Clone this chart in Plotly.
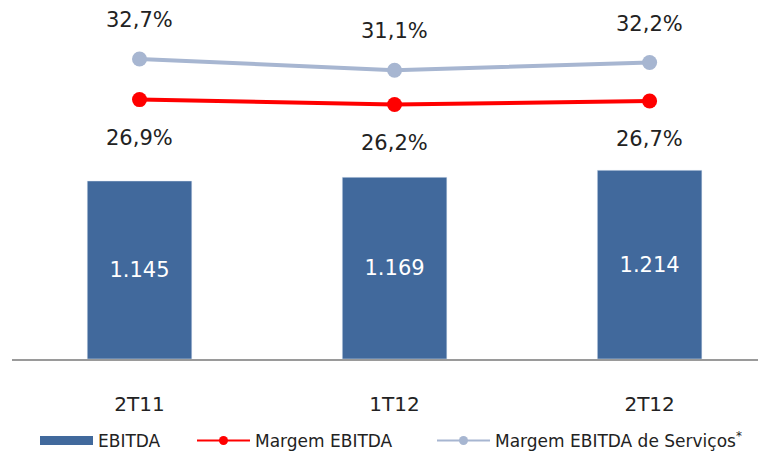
import plotly.graph_objects as go

categories = ["2T11", "1T12", "2T12"]
ebitda = [1145, 1169, 1214]
ebitda_labels = ["1.145", "1.169", "1.214"]
margem = [26.9, 26.2, 26.7]
margem_serv = [32.7, 31.1, 32.2]

def pct(v):
    return f"{v:.1f}".replace(".", ",") + "%"

FONT = "DejaVu Sans, Verdana, sans-serif"
BAR = "#41699C"
RED = "#FF0000"
GRAY = "#A7B6D1"
TXT = "#222222"

fig = go.Figure()
fig.add_trace(go.Bar(
    x=categories, y=ebitda, name="EBITDA", marker_color=BAR, width=0.41,
    text=ebitda_labels, textposition="inside", insidetextanchor="middle",
    textfont=dict(color="white", size=21, family=FONT), hoverinfo="skip",
    showlegend=False,
))
fig.add_trace(go.Scatter(
    x=categories, y=margem, name="Margem EBITDA", yaxis="y2", mode="lines+markers",
    line=dict(color=RED, width=4), marker=dict(size=15, color=RED), showlegend=False,
))
fig.add_trace(go.Scatter(
    x=categories, y=margem_serv, name="Margem EBITDA de Serviços", yaxis="y2",
    mode="lines+markers", line=dict(color=GRAY, width=4), marker=dict(size=15, color=GRAY),
    showlegend=False,
))

# legend entries (thin symbols like the reference)
fig.add_trace(go.Scatter(x=[None], y=[None], name="EBITDA", mode="lines",
                         line=dict(color=BAR, width=9), legend="legend"))
fig.add_trace(go.Scatter(x=[None], y=[None], name="Margem EBITDA", mode="lines+markers",
                         line=dict(color=RED, width=2), marker=dict(size=9, color=RED),
                         legend="legend2"))
fig.add_trace(go.Scatter(x=[None], y=[None], name="Margem EBITDA de Serviços<sup>*</sup>",
                         mode="lines+markers", line=dict(color=GRAY, width=2),
                         marker=dict(size=9, color=GRAY), legend="legend3"))

for c, v in zip(categories, margem_serv):
    fig.add_annotation(x=c, y=v, xref="x", yref="y2", text=pct(v), showarrow=False,
                       yshift=39, font=dict(size=21, color=TXT, family=FONT))
for c, v in zip(categories, margem):
    fig.add_annotation(x=c, y=v, xref="x", yref="y2", text=pct(v), showarrow=False,
                       yshift=-38, font=dict(size=21, color=TXT, family=FONT))

def leg(xpx):
    return dict(orientation="h", xref="container", yref="container",
                x=xpx / 758, xanchor="left", y=1 - 441 / 454, yanchor="middle",
                font=dict(size=17, family=FONT, color=TXT), itemwidth=53,
                bgcolor="rgba(0,0,0,0)", borderwidth=0)

fig.update_layout(
    width=758, height=454,
    margin=dict(l=12, r=0, t=0, b=95, autoexpand=False),
    plot_bgcolor="white", paper_bgcolor="white",
    font=dict(family=FONT, color=TXT),
    xaxis=dict(range=[-0.5, 2.425], showgrid=False, showline=True, linecolor="#9A9A9A",
               linewidth=2, ticks="", ticklabelstandoff=26,
               tickfont=dict(size=20, family=FONT, color=TXT)),
    yaxis=dict(range=[0, 2309], visible=False, showgrid=False),
    yaxis2=dict(range=[-10.16, 41.13], overlaying="y", visible=False, showgrid=False),
    legend=leg(35),
    legend2=leg(192),
    legend3=leg(432),
    showlegend=True,
)

fig.write_html("out.html", config={"displayModeBar": False},
               post_script="document.body.style.margin='0px';")
